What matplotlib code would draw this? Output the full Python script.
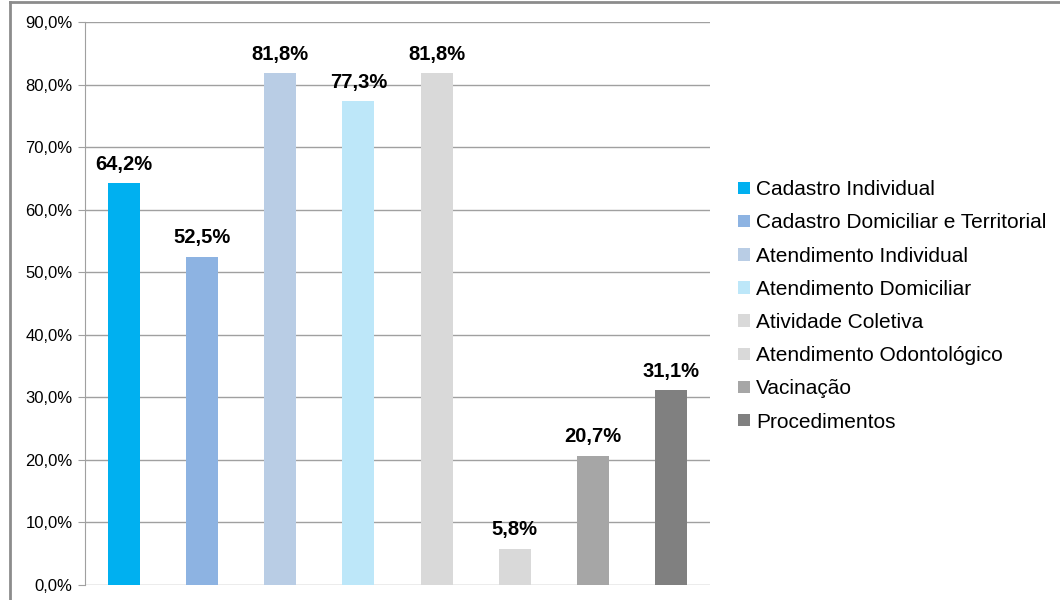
import numpy as np
import matplotlib.pyplot as plt
from matplotlib.ticker import FuncFormatter
from matplotlib.lines import Line2D

categorias = ["Cadastro Individual", "Cadastro Domiciliar e Territorial",
              "Atendimento Individual", "Atendimento Domiciliar",
              "Atividade Coletiva", "Atendimento Odontológico",
              "Vacinação", "Procedimentos"]
valores = [64.2, 52.5, 81.8, 77.3, 81.8, 5.8, 20.7, 31.1]
cores = ["#00B0F0", "#8DB3E2", "#B9CDE5", "#BDE7F9",
         "#D9D9D9", "#D9D9D9", "#A6A6A6", "#808080"]

plt.rcParams['font.family'] = ['Liberation Sans', 'DejaVu Sans']

fig = plt.figure(figsize=(10.6, 6), dpi=100)
ax = fig.add_axes([85/1060, 1-585/600, 625/1060, 563/600])

x = np.arange(len(valores))
barras = []
for i in range(len(valores)):
    b = ax.bar(x[i], valores[i], width=0.41, color=cores[i], label=categorias[i], zorder=3)
    barras.append(b)
    ax.text(x[i], valores[i] + 1.5, f"{valores[i]:.1f}%".replace(".", ","),
            ha="center", va="bottom", fontsize=14.5, fontweight="bold")

ax.set_xlim(-0.5, len(valores) - 0.5)
ax.set_ylim(0, 90)
ax.set_yticks(np.arange(0, 91, 10))
ax.yaxis.set_major_formatter(FuncFormatter(lambda v, p: f"{v:.1f}%".replace(".", ",")))
ax.tick_params(axis="y", labelsize=12, length=5, color="#a0a0a0", pad=4)
ax.set_xticks([])
ax.grid(axis="y", color="#a0a0a0", linewidth=1, zorder=0)
for s in ["top", "right", "bottom"]:
    ax.spines[s].set_visible(False)
ax.spines["left"].set_color("#a0a0a0")

leg = fig.legend(handles=[b[0] for b in barras], labels=categorias,
                 loc="upper left", bbox_to_anchor=(730/1060, 1-172/600),
                 frameon=False, fontsize=15, handlelength=0.55, handleheight=0.55,
                 handletextpad=0.3, labelspacing=0.68, borderaxespad=0)

# borda do quadro cortada
fig.add_artist(Line2D([10/1060, 10/1060], [0, 1-2/600], color="#8c8c8c", lw=2))
fig.add_artist(Line2D([10/1060, 1], [1-2/600, 1-2/600], color="#8c8c8c", lw=2))

fig.savefig("out.png", dpi=100)
